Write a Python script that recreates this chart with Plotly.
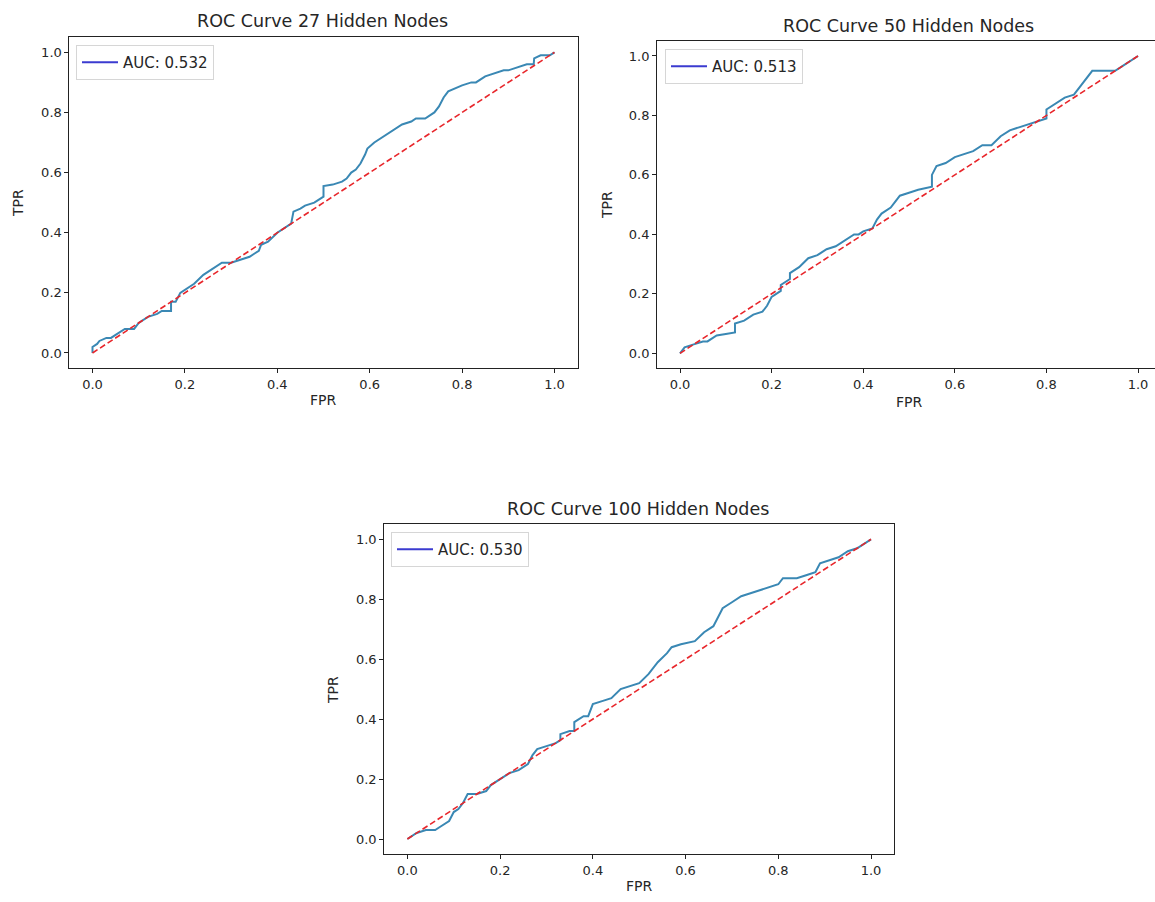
import plotly.graph_objects as go

# ---------------- data ----------------
titles = ["ROC Curve 27 Hidden Nodes", "ROC Curve 50 Hidden Nodes", "ROC Curve 100 Hidden Nodes"]
auc_labels = ["AUC: 0.532", "AUC: 0.513", "AUC: 0.530"]

fpr_27 = [0.0, 0.0, 0.01, 0.015, 0.03, 0.04, 0.05, 0.06, 0.07, 0.09, 0.10, 0.12, 0.14, 0.15, 0.17,
          0.17, 0.18, 0.19, 0.20, 0.22, 0.24, 0.26, 0.27, 0.28, 0.30, 0.32, 0.34, 0.35, 0.36, 0.365,
          0.38, 0.40, 0.42, 0.43, 0.435, 0.45, 0.46, 0.48, 0.50, 0.50, 0.52, 0.54, 0.55, 0.56, 0.57,
          0.58, 0.59, 0.595, 0.61, 0.63, 0.65, 0.67, 0.69, 0.70, 0.72, 0.74, 0.75, 0.76, 0.77, 0.79,
          0.80, 0.82, 0.83, 0.85, 0.87, 0.89, 0.90, 0.92, 0.94, 0.955, 0.956, 0.97, 0.99, 1.0]
tpr_27 = [0.0, 0.02, 0.03, 0.04, 0.05, 0.05, 0.06, 0.07, 0.08, 0.08, 0.10, 0.12, 0.13, 0.14, 0.14,
          0.17, 0.17, 0.20, 0.21, 0.23, 0.26, 0.28, 0.29, 0.30, 0.30, 0.31, 0.32, 0.33, 0.34, 0.36,
          0.37, 0.40, 0.42, 0.43, 0.47, 0.48, 0.49, 0.50, 0.52, 0.555, 0.56, 0.57, 0.58, 0.60, 0.61,
          0.63, 0.66, 0.68, 0.70, 0.72, 0.74, 0.76, 0.77, 0.78, 0.78, 0.80, 0.82, 0.85, 0.87, 0.885,
          0.89, 0.90, 0.90, 0.92, 0.93, 0.94, 0.94, 0.95, 0.96, 0.96, 0.98, 0.99, 0.99, 1.0]

fpr_50 = [0.0, 0.01, 0.03, 0.05, 0.06, 0.07, 0.08, 0.10, 0.12, 0.12, 0.14, 0.16, 0.18, 0.19, 0.20,
          0.22, 0.22, 0.24, 0.24, 0.26, 0.28, 0.30, 0.32, 0.34, 0.36, 0.38, 0.39, 0.40, 0.42, 0.43,
          0.44, 0.46, 0.47, 0.48, 0.50, 0.52, 0.55, 0.55, 0.56, 0.58, 0.60, 0.62, 0.64, 0.66, 0.68,
          0.70, 0.72, 0.74, 0.76, 0.78, 0.80, 0.80, 0.82, 0.84, 0.86, 0.87, 0.88, 0.89, 0.90, 0.92,
          0.95, 0.97, 0.99, 1.0]
tpr_50 = [0.0, 0.02, 0.03, 0.04, 0.04, 0.05, 0.06, 0.065, 0.07, 0.10, 0.11, 0.13, 0.14, 0.16, 0.19,
          0.21, 0.23, 0.25, 0.27, 0.29, 0.32, 0.33, 0.35, 0.36, 0.38, 0.40, 0.40, 0.41, 0.42, 0.45,
          0.47, 0.49, 0.51, 0.53, 0.54, 0.55, 0.56, 0.60, 0.63, 0.64, 0.66, 0.67, 0.68, 0.70, 0.70,
          0.73, 0.75, 0.76, 0.77, 0.78, 0.79, 0.82, 0.84, 0.86, 0.87, 0.89, 0.91, 0.93, 0.95, 0.95,
          0.95, 0.97, 0.99, 1.0]

fpr_100 = [0.0, 0.02, 0.04, 0.06, 0.07, 0.08, 0.09, 0.10, 0.11, 0.12, 0.13, 0.15, 0.17, 0.18, 0.20,
           0.22, 0.24, 0.26, 0.27, 0.28, 0.30, 0.32, 0.33, 0.33, 0.35, 0.36, 0.36, 0.38, 0.39, 0.40,
           0.42, 0.44, 0.46, 0.48, 0.50, 0.52, 0.54, 0.56, 0.57, 0.59, 0.62, 0.64, 0.66, 0.67, 0.68,
           0.70, 0.72, 0.74, 0.76, 0.78, 0.80, 0.81, 0.84, 0.86, 0.88, 0.89, 0.91, 0.93, 0.95, 0.97, 1.0]
tpr_100 = [0.0, 0.02, 0.03, 0.03, 0.04, 0.05, 0.06, 0.09, 0.10, 0.12, 0.15, 0.15, 0.16, 0.18, 0.20,
           0.22, 0.23, 0.25, 0.28, 0.30, 0.31, 0.32, 0.33, 0.35, 0.36, 0.36, 0.39, 0.41, 0.41, 0.45,
           0.46, 0.47, 0.50, 0.51, 0.52, 0.55, 0.59, 0.62, 0.64, 0.65, 0.66, 0.69, 0.71, 0.74, 0.77,
           0.79, 0.81, 0.82, 0.83, 0.84, 0.85, 0.87, 0.87, 0.88, 0.89, 0.92, 0.93, 0.94, 0.96, 0.97, 1.0]

chance_x = [0.0, 1.0]
chance_y = [0.0, 1.0]
tick_vals = [0.0, 0.2, 0.4, 0.6, 0.8, 1.0]

curves = [(fpr_27, tpr_27), (fpr_50, tpr_50), (fpr_100, tpr_100)]

# ---------------- layout geometry (pixels) ----------------
W, H = 1155, 902
# (left, right, top, bottom) px of plot boxes
boxes = [(69.4, 577.6, 37.3, 368.0), (657.1, 1155.0, 41.1, 368.2), (384.2, 894.2, 524.3, 854.0)]
xranges = [[-0.05, 1.05], [-0.05, 1.037], [-0.05, 1.05]]
title_pos = [(322, 21), (908, 26), (638, 509)]
fpr_pos = [(323, 400), (909, 402), (639, 886)]
tpr_pos = [(18, 203), (607, 205), (333, 690)]
legend_pos = [(76, 45), (665, 49), (391, 532)]

CURVE = "#3a88b4"
FONT = "DejaVu Sans"
TXT = "#262626"

fig = go.Figure()
annotations = []
for i, ((fx, ty), (l, r, t, b)) in enumerate(zip(curves, boxes)):
    n = "" if i == 0 else str(i + 1)
    xa, ya = "x" + n, "y" + n
    lg = "legend" + n
    fig.add_trace(go.Scatter(x=fx, y=ty, mode="lines", xaxis=xa, yaxis=ya,
                             line=dict(color=CURVE, width=2), showlegend=False,
                             hoverinfo="skip"))
    fig.add_trace(go.Scatter(x=[None], y=[None], mode="lines", xaxis=xa, yaxis=ya,
                             line=dict(color="#3b3bd0", width=2), name=auc_labels[i],
                             showlegend=True, legend=lg))
    fig.add_trace(go.Scatter(x=chance_x, y=chance_y, mode="lines", xaxis=xa, yaxis=ya,
                             line=dict(color="#e8262b", width=1.6, dash="6px,3px"),
                             showlegend=False, hoverinfo="skip"))
    axcommon = dict(showline=True, linecolor="#222222", linewidth=1, ticks="outside",
                    ticklen=4, tickcolor="#222222", tickwidth=1, showgrid=False,
                    zeroline=False, tickvals=tick_vals, tickformat=".1f",
                    ticklabeloverflow="allow",
                    tickfont=dict(family=FONT, size=13, color=TXT))
    fig.update_layout({
        "xaxis" + n: dict(domain=[l / W, r / W], range=xranges[i], anchor=ya,
                          mirror=True, **axcommon),
        "yaxis" + n: dict(domain=[1 - b / H, 1 - t / H], range=[-0.05, 1.05], anchor=xa,
                          mirror=(i != 1), **axcommon),
        lg: dict(x=legend_pos[i][0] / W, y=1 - legend_pos[i][1] / H, xanchor="left",
                 yanchor="top", bgcolor="white", bordercolor="#d6d6d6", borderwidth=1,
                 font=dict(family=FONT, size=15, color=TXT),
                 itemwidth=36, tracegroupgap=0),
    })
    annotations.append(dict(text=titles[i], x=title_pos[i][0] / W, y=1 - title_pos[i][1] / H,
                            xref="paper", yref="paper", showarrow=False,
                            font=dict(family=FONT, size=17.5, color=TXT),
                            xanchor="center", yanchor="middle"))
    annotations.append(dict(text="FPR", x=fpr_pos[i][0] / W, y=1 - fpr_pos[i][1] / H,
                            xref="paper", yref="paper", showarrow=False,
                            font=dict(family=FONT, size=14, color=TXT),
                            xanchor="center", yanchor="middle"))
    annotations.append(dict(text="TPR", x=tpr_pos[i][0] / W, y=1 - tpr_pos[i][1] / H,
                            xref="paper", yref="paper", showarrow=False, textangle=-90,
                            font=dict(family=FONT, size=14, color=TXT),
                            xanchor="center", yanchor="middle"))

fig.update_layout(width=W, height=H, margin=dict(l=0, r=0, t=0, b=0),
                  paper_bgcolor="white", plot_bgcolor="white",
                  annotations=annotations, font=dict(family=FONT))
fig.write_html("out.html", config={"displayModeBar": False},
               post_script="document.body.style.margin='0';document.body.style.overflow='hidden';")
